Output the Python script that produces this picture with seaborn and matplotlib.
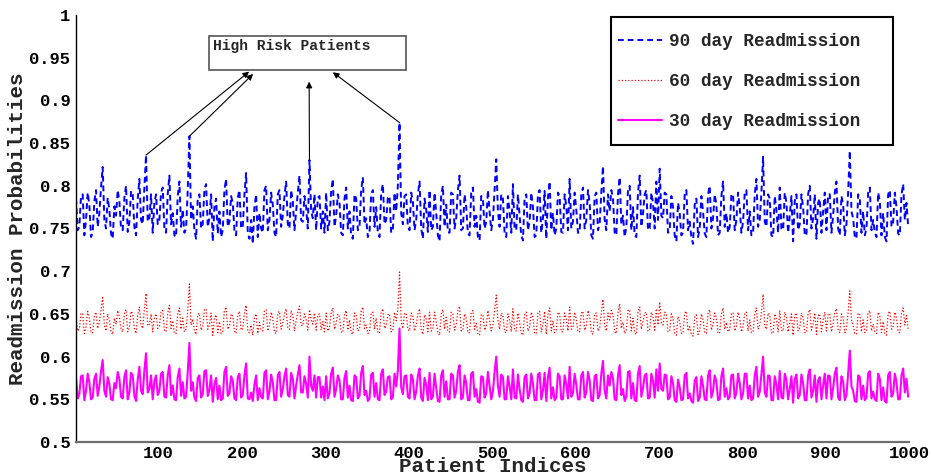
import numpy as np
import pandas as pd
import matplotlib
matplotlib.use("Agg")
import matplotlib.pyplot as plt
import seaborn as sns
from matplotlib.patches import Rectangle
from matplotlib.ticker import FuncFormatter
from matplotlib.font_manager import FontProperties

# ---------------- data ----------------
# readings at patients 1, 5, 9, ..., 997
patient_idx_a = list(range(1, 1001, 4))
# readings at patients 3, 7, 11, ..., 999
patient_idx_b = list(range(3, 1001, 4))

p90_milli_a = [
    785, 752, 790, 760, 778, 745, 795, 768, 822, 750, 772, 738, 765, 782, 748, 800, 758, 790, 742, 808, 755, 836, 762, 745, 790,
    760, 798, 745, 812, 768, 740, 805, 772, 750, 858, 776, 738, 790, 755, 802, 762, 735, 785, 770, 748, 808, 758, 780, 742, 795,
    752, 815, 738, 732, 790, 768, 745, 800, 760, 778, 740, 795, 765, 805, 750, 782, 770, 812, 758, 775, 830, 762, 748, 788, 770,
    792, 758, 808, 765, 780, 742, 798, 770, 738, 785, 752, 810, 762, 745, 795, 775, 740, 802, 760, 788, 748, 770, 874, 755, 790,
    748, 782, 760, 805, 738, 772, 795, 752, 768, 735, 800, 778, 745, 790, 762, 812, 750, 775, 742, 798, 765, 736, 785, 758, 770,
    760, 831, 752, 785, 740, 770, 802, 748, 765, 736, 790, 758, 775, 742, 795, 762, 738, 805, 768, 750, 788, 745, 776, 808, 758,
    772, 745, 798, 760, 780, 738, 792, 755, 823, 748, 770, 785, 742, 810, 765, 752, 800, 775, 740, 812, 768, 795, 750, 780, 805,
    820, 762, 790, 748, 775, 735, 768, 745, 795, 758, 732, 785, 750, 770, 740, 800, 762, 778, 745, 805, 768, 752, 790, 760, 775,
    758, 795, 770, 745, 808, 760, 834, 752, 785, 740, 772, 798, 748, 780, 765, 735, 790, 755, 775, 742, 800, 762, 738, 785, 770,
    748, 790, 765, 805, 742, 778, 755, 841, 762, 738, 785, 770, 750, 798, 760, 740, 782, 768, 735, 795, 758, 775, 742, 802, 780,
]
p90_milli_b = [
    748, 788, 742, 792, 740, 782, 752, 798, 760, 786, 744, 776, 795, 750, 786, 746, 794, 752, 784, 760, 798, 758, 790, 780, 755,
    792, 750, 790, 755, 742, 788, 752, 745, 795, 760, 748, 785, 750, 796, 752, 790, 775, 744, 740, 795, 752, 788, 748, 786, 750,
    790, 745, 760, 775, 740, 750, 795, 748, 792, 745, 790, 752, 788, 755, 795, 748, 792, 760, 788, 750, 770, 790, 786, 750, 745,
    748, 794, 752, 790, 745, 785, 750, 742, 790, 748, 795, 755, 740, 790, 752, 745, 792, 755, 786, 745, 792, 800, 768, 788, 752,
    792, 748, 790, 750, 785, 746, 748, 792, 742, 790, 752, 746, 792, 750, 795, 748, 790, 744, 792, 752, 740, 788, 750, 795, 748,
    795, 770, 790, 745, 788, 745, 750, 790, 742, 785, 748, 792, 740, 790, 745, 794, 786, 748, 742, 792, 746, 790, 748, 750, 792,
    745, 790, 750, 795, 742, 788, 748, 792, 760, 790, 795, 745, 790, 755, 740, 795, 748, 742, 792, 752, 790, 748, 792, 750, 760,
    765, 792, 745, 788, 742, 780, 742, 790, 748, 740, 778, 740, 788, 744, 790, 750, 790, 742, 788, 752, 745, 790, 748, 792, 745,
    792, 748, 742, 790, 752, 792, 758, 790, 742, 788, 745, 750, 792, 745, 788, 782, 748, 790, 742, 790, 750, 790, 780, 745, 792,
    790, 745, 792, 750, 788, 742, 792, 770, 740, 790, 745, 742, 792, 748, 745, 792, 742, 740, 790, 752, 792, 744, 790, 760, 752,
]

p60_milli_a = [
    648, 632, 650, 635, 645, 628, 652, 640, 669, 630, 643, 626, 638, 647, 629, 655, 634, 650, 627, 658, 633, 674, 638, 629, 650,
    636, 654, 629, 660, 642, 627, 657, 645, 632, 685, 644, 626, 651, 634, 656, 637, 625, 649, 641, 630, 658, 635, 647, 627, 653,
    633, 660, 628, 625, 650, 640, 630, 655, 637, 645, 627, 653, 639, 656, 632, 648, 642, 659, 636, 644, 655, 638, 631, 650, 641,
    651, 634, 657, 639, 647, 628, 654, 643, 626, 649, 632, 658, 637, 629, 652, 645, 627, 656, 636, 650, 630, 642, 699, 633, 651,
    630, 648, 637, 656, 626, 644, 652, 632, 641, 625, 655, 646, 629, 650, 638, 659, 631, 645, 628, 654, 639, 625, 649, 635, 642,
    637, 672, 632, 649, 628, 643, 656, 630, 640, 625, 652, 635, 646, 627, 653, 638, 626, 657, 642, 631, 650, 629, 645, 658, 634,
    644, 629, 653, 636, 647, 626, 651, 633, 667, 630, 643, 649, 627, 662, 640, 631, 655, 645, 626, 658, 641, 652, 631, 647, 656,
    664, 637, 650, 630, 645, 625, 641, 628, 653, 635, 624, 649, 631, 643, 627, 655, 638, 646, 628, 657, 640, 632, 651, 636, 645,
    635, 652, 643, 629, 657, 637, 673, 632, 649, 627, 644, 654, 630, 647, 640, 625, 651, 634, 645, 628, 655, 638, 626, 650, 643,
    630, 650, 639, 656, 628, 646, 633, 677, 637, 626, 649, 643, 631, 654, 638, 627, 648, 641, 625, 653, 635, 645, 628, 657, 648,
]
p60_milli_b = [
    630, 651, 627, 653, 628, 648, 633, 655, 637, 650, 629, 645, 654, 632, 650, 629, 653, 633, 648, 637, 655, 636, 650, 646, 633,
    652, 631, 651, 633, 627, 650, 632, 629, 654, 637, 630, 649, 631, 655, 632, 651, 645, 628, 627, 654, 632, 650, 630, 649, 631,
    651, 629, 637, 645, 627, 631, 654, 630, 652, 629, 651, 632, 650, 633, 654, 630, 652, 637, 650, 631, 643, 651, 649, 631, 629,
    630, 652, 632, 650, 629, 649, 631, 628, 651, 630, 653, 633, 627, 651, 632, 629, 652, 633, 649, 629, 652, 656, 641, 650, 632,
    651, 630, 650, 631, 649, 629, 630, 652, 628, 650, 632, 629, 652, 631, 654, 630, 650, 628, 652, 632, 627, 649, 631, 654, 630,
    654, 643, 651, 629, 650, 629, 631, 651, 628, 649, 630, 652, 627, 651, 629, 653, 649, 630, 628, 652, 629, 651, 630, 632, 652,
    629, 651, 631, 654, 628, 650, 630, 652, 637, 651, 654, 629, 651, 633, 627, 654, 630, 628, 652, 632, 651, 630, 652, 631, 637,
    640, 652, 629, 650, 627, 647, 627, 651, 630, 626, 646, 626, 650, 628, 651, 631, 651, 627, 650, 632, 629, 651, 630, 652, 629,
    651, 630, 628, 650, 632, 652, 636, 651, 628, 650, 629, 631, 652, 629, 650, 648, 630, 651, 628, 651, 631, 651, 648, 629, 652,
    650, 629, 652, 631, 650, 628, 652, 643, 627, 651, 629, 628, 652, 630, 629, 652, 628, 627, 651, 632, 652, 629, 651, 637, 632,
]

p30_milli_a = [
    575, 556, 578, 560, 570, 552, 580, 565, 596, 553, 568, 549, 563, 574, 551, 584, 558, 578, 548, 588, 556, 604, 562, 550, 578,
    560, 582, 552, 590, 566, 549, 586, 570, 553, 616, 570, 548, 578, 556, 584, 561, 547, 575, 566, 551, 588, 557, 572, 549, 580,
    555, 592, 550, 548, 578, 563, 551, 584, 559, 570, 549, 582, 562, 586, 553, 574, 566, 590, 558, 568, 600, 560, 552, 576, 565,
    577, 557, 587, 562, 572, 550, 583, 566, 548, 576, 554, 589, 560, 551, 581, 569, 549, 585, 559, 577, 552, 565, 633, 556, 578,
    551, 574, 559, 586, 548, 567, 581, 553, 563, 547, 584, 571, 550, 578, 560, 590, 552, 569, 549, 582, 562, 546, 576, 557, 566,
    559, 600, 553, 576, 550, 565, 585, 551, 562, 547, 579, 557, 569, 549, 581, 560, 548, 587, 564, 552, 577, 550, 568, 588, 557,
    567, 550, 582, 558, 572, 548, 579, 555, 595, 551, 566, 575, 549, 590, 562, 553, 583, 569, 548, 589, 563, 580, 552, 572, 585,
    592, 560, 578, 552, 569, 547, 564, 550, 581, 557, 546, 576, 552, 566, 549, 584, 560, 571, 550, 586, 563, 553, 579, 558, 569,
    557, 580, 566, 551, 588, 559, 600, 553, 577, 549, 567, 583, 551, 573, 562, 546, 579, 555, 569, 549, 585, 560, 547, 576, 566,
    551, 577, 563, 587, 549, 571, 555, 607, 560, 547, 576, 566, 552, 583, 559, 548, 574, 564, 546, 582, 557, 570, 550, 586, 574,
]
p30_milli_b = [
    551, 577, 549, 580, 550, 574, 554, 583, 560, 576, 550, 569, 582, 553, 576, 550, 581, 554, 573, 560, 584, 558, 578, 571, 555,
    580, 553, 578, 555, 550, 576, 554, 551, 582, 560, 552, 575, 552, 583, 554, 578, 568, 550, 549, 582, 554, 577, 551, 576, 552,
    578, 551, 558, 567, 549, 553, 581, 550, 579, 549, 578, 553, 577, 555, 581, 551, 579, 558, 577, 552, 566, 578, 576, 552, 549,
    551, 580, 553, 578, 550, 575, 552, 549, 578, 551, 581, 555, 548, 579, 553, 550, 580, 555, 576, 550, 580, 584, 564, 577, 553,
    579, 550, 578, 552, 575, 549, 550, 580, 548, 578, 553, 550, 580, 552, 582, 550, 578, 549, 580, 553, 547, 577, 552, 582, 550,
    582, 566, 579, 550, 577, 550, 552, 579, 549, 576, 551, 580, 549, 579, 550, 581, 576, 551, 549, 580, 550, 578, 551, 553, 580,
    550, 578, 552, 582, 549, 577, 551, 580, 560, 578, 582, 550, 578, 555, 548, 582, 551, 549, 580, 553, 578, 551, 580, 552, 560,
    562, 579, 550, 577, 549, 573, 549, 578, 551, 548, 572, 548, 577, 550, 578, 552, 578, 549, 577, 553, 550, 578, 551, 580, 550,
    580, 551, 549, 578, 553, 580, 558, 578, 549, 577, 550, 552, 580, 550, 577, 574, 551, 579, 549, 578, 552, 578, 572, 550, 580,
    578, 550, 580, 552, 577, 549, 580, 565, 548, 578, 550, 549, 580, 551, 550, 580, 549, 548, 578, 553, 580, 550, 578, 558, 553,
]

series_labels = ["90 day Readmission", "60 day Readmission", "30 day Readmission"]
annotation_text = "High Risk Patients"
high_risk_samples = [21, 34, 70, 97]   # positions in the "_a" arrays of the annotated spikes
x_ticks = [100, 200, 300, 400, 500, 600, 700, 800, 900, 1000]
y_ticks = [0.5, 0.55, 0.6, 0.65, 0.7, 0.75, 0.8, 0.85, 0.9, 0.95, 1.0]
x_label = "Patient Indices"
y_label = "Readmission Probabilities"

# ---------------- build table ----------------
na = min(len(patient_idx_a), len(p90_milli_a), len(p60_milli_a), len(p30_milli_a))
nb = min(len(patient_idx_b), len(p90_milli_b), len(p60_milli_b), len(p30_milli_b))
df = pd.DataFrame({
    "idx": patient_idx_a[:na] + patient_idx_b[:nb],
    "p90": np.array(p90_milli_a[:na] + p90_milli_b[:nb]) / 1000.0,
    "p60": np.array(p60_milli_a[:na] + p60_milli_b[:nb]) / 1000.0,
    "p30": np.array(p30_milli_a[:na] + p30_milli_b[:nb]) / 1000.0,
}).sort_values("idx").reset_index(drop=True)

# ---------------- style ----------------
sns.set_style("white")
plt.rcParams["font.family"] = ["Liberation Mono", "DejaVu Sans Mono", "DejaVu Sans"]
plt.rcParams["font.weight"] = "bold"

fig = plt.figure(figsize=(9.31, 4.76), dpi=100)
ax = fig.add_axes([76 / 931, 1 - 442 / 476, (909 - 76) / 931, (442 - 15) / 476])

sns.lineplot(data=df, x="idx", y="p90", ax=ax, color="#0000ff", lw=1.4,
             linestyle=(0, (3, 2)), label=series_labels[0])
sns.lineplot(data=df, x="idx", y="p60", ax=ax, color="#ff0000", lw=0.9,
             linestyle=(0, (1, 1.6)), label=series_labels[1])
sns.lineplot(data=df, x="idx", y="p30", ax=ax, color="#ff00ff", lw=1.5,
             linestyle="-", label=series_labels[2])

ax.set_xlim(1, 1000)
ax.set_ylim(0.5, 1.0)
ax.set_xticks(x_ticks)
ax.set_yticks(y_ticks)
ax.yaxis.set_major_formatter(FuncFormatter(lambda v, p: "%g" % round(v, 2)))

for s in ["top", "right"]:
    ax.spines[s].set_visible(False)
ax.spines["left"].set_color("black")
ax.spines["left"].set_linewidth(1.0)
ax.spines["bottom"].set_color("#6e6e6e")
ax.spines["bottom"].set_linewidth(1.6)

ax.tick_params(axis="y", direction="in", length=8, width=1, color="black", pad=4)
ax.tick_params(axis="x", direction="in", length=7, width=1, color="#6e6e6e", pad=3)
for lab in ax.get_xticklabels() + ax.get_yticklabels():
    lab.set_fontfamily("Liberation Mono")
    lab.set_fontweight("bold")
    lab.set_fontsize(12.3)
    lab.set_color("black")

ax.set_xlabel(x_label, fontsize=15, fontweight="bold", family="Liberation Mono")
ax.xaxis.set_label_coords(0.5, -0.036)
ax.set_ylabel(y_label, fontsize=15, fontweight="bold", family="Liberation Mono")
ax.yaxis.set_label_coords(-0.059, 0.5)

# ---------------- legend ----------------
frame = Rectangle((0.6423, 0.6956), 0.9808 - 0.6423, 0.9953 - 0.6956, transform=ax.transAxes,
                  facecolor="white", edgecolor="black", lw=1.5, zorder=4.5, clip_on=False)
ax.add_patch(frame)
leg = ax.legend(loc="upper left", bbox_to_anchor=(0.6507, 0.958), borderaxespad=0,
                prop=FontProperties(family="Liberation Mono", weight="bold", size=12.8),
                frameon=False, handlelength=2.5, handletextpad=0.35,
                labelspacing=1.3, borderpad=0)
leg.set_zorder(6)

# ---------------- annotation ----------------
box = Rectangle((160.6, 0.9356), 397 - 160.6, 0.9758 - 0.9356, fill=True,
                facecolor="white", edgecolor="#555555", lw=1.2, zorder=5)
ax.add_patch(box)
ax.text(165, 0.9635, annotation_text, family="Liberation Mono", weight="bold",
        fontsize=10.5, va="center", ha="left", zorder=6)

heads = [(208.6, 0.9337), (213.4, 0.931), (280.6, 0.922), (309.0, 0.933)]
for k, (hx, hy) in zip(high_risk_samples, heads):
    ax.annotate("", xy=(hx, hy), xytext=(patient_idx_a[k], p90_milli_a[k] / 1000.0),
                arrowprops=dict(arrowstyle="-|>", color="black", lw=0.8,
                                mutation_scale=9, shrinkA=0, shrinkB=0), zorder=6)

fig.savefig("out.png", dpi=100)
